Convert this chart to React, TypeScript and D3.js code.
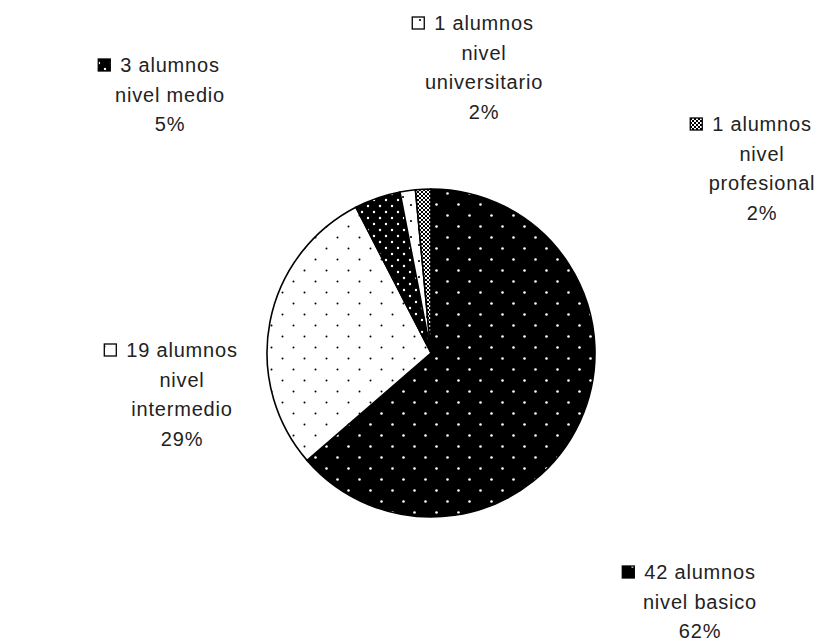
import React, { useEffect, useRef } from 'react';
import * as d3 from 'd3';

// chart data
const levels = ['basico', 'intermedio', 'medio', 'universitario', 'profesional'];
const students = [42, 19, 3, 1, 1];
const levelLines = [['nivel basico'], ['nivel', 'intermedio'], ['nivel medio'], ['nivel', 'universitario'], ['nivel', 'profesional']];
const percentLabels = ['62%', '29%', '5%', '2%', '2%'];

// label anchors (center x, first line y)
const labelPos = [
  { x: 700, y: 572 },
  { x: 182, y: 350 },
  { x: 170, y: 65 },
  { x: 484, y: 23 },
  { x: 762, y: 124 }
];

const App: React.FC = () => {
  const svgRef = useRef<SVGSVGElement>(null);

  useEffect(() => {
    if (!svgRef.current) return;
    document.body.style.margin = '0';

    const width = 827;
    const height = 643;
    const cx = 431;
    const cy = 353;
    const radius = 164;

    const svg = d3.select(svgRef.current);
    svg.selectAll('*').remove();

    // fill patterns, one per slice
    const defs = svg.append('defs');

    const dotPattern = (id: string, size: number, bg: string, fg: string, r: number) => {
      const p = defs.append('pattern')
        .attr('id', id)
        .attr('patternUnits', 'userSpaceOnUse')
        .attr('width', size)
        .attr('height', size);
      p.append('rect').attr('width', size).attr('height', size).attr('fill', bg);
      p.append('circle').attr('cx', size / 4).attr('cy', size / 4).attr('r', r).attr('fill', fg);
      p.append('circle').attr('cx', size * 3 / 4).attr('cy', size * 3 / 4).attr('r', r).attr('fill', fg);
    };

    dotPattern('pat-basico', 22, '#000', '#fff', 1.3);
    dotPattern('pat-intermedio', 22, '#fff', '#000', 1.0);
    dotPattern('pat-medio', 12, '#000', '#fff', 1.2);
    dotPattern('pat-universitario', 16, '#fff', '#000', 1.1);

    const chk = defs.append('pattern')
      .attr('id', 'pat-profesional')
      .attr('patternUnits', 'userSpaceOnUse')
      .attr('width', 4)
      .attr('height', 4);
    chk.append('rect').attr('width', 4).attr('height', 4).attr('fill', '#fff');
    chk.append('rect').attr('width', 2).attr('height', 2).attr('fill', '#000');
    chk.append('rect').attr('x', 2).attr('y', 2).attr('width', 2).attr('height', 2).attr('fill', '#000');

    const fills = levels.map(l => `url(#pat-${l})`);

    svg.append('rect').attr('width', width).attr('height', height).attr('fill', '#fff');

    const pie = d3.pie<number>().sort(null).value(d => d);
    const arc = d3.arc<d3.PieArcDatum<number>>().innerRadius(0).outerRadius(radius);

    const g = svg.append('g').attr('transform', `translate(${cx}, ${cy})`);

    g.selectAll('path')
      .data(pie(students))
      .enter()
      .append('path')
      .attr('d', arc)
      .attr('fill', (d, i) => fills[i])
      .attr('stroke', '#000')
      .attr('stroke-width', 1.6)
      .attr('stroke-linejoin', 'round');

    // labels
    const lineH = 29.5;
    levels.forEach((lvl, i) => {
      const pos = labelPos[i];
      const lines = [`${students[i]} alumnos`, ...levelLines[i], percentLabels[i]];
      const lg = svg.append('g').attr('class', `label-${lvl}`);

      const texts = lines.map((t, j) =>
        lg.append('text')
          .attr('x', pos.x)
          .attr('y', pos.y + j * lineH)
          .attr('text-anchor', 'middle')
          .attr('dominant-baseline', 'central')
          .attr('fill', '#222')
          .style('font-family', '"Liberation Sans", Arial, Helvetica, sans-serif')
          .style('font-size', '20px')
          .style('letter-spacing', '0.8px')
          .text(t)
      );

      // legend key to the left of the first line
      const first = texts[0].node() as SVGTextElement;
      const w = first.getComputedTextLength();
      const left = pos.x - w / 2;
      lg.append('rect')
        .attr('x', left - 22)
        .attr('y', pos.y - 6)
        .attr('width', 12)
        .attr('height', 12)
        .attr('fill', fills[i])
        .attr('stroke', '#000')
        .attr('stroke-width', 1.3);
    });
  }, []);

  return (
    <svg ref={svgRef} width={827} height={643} style={{ display: 'block' }}></svg>
  );
};

export default App;
